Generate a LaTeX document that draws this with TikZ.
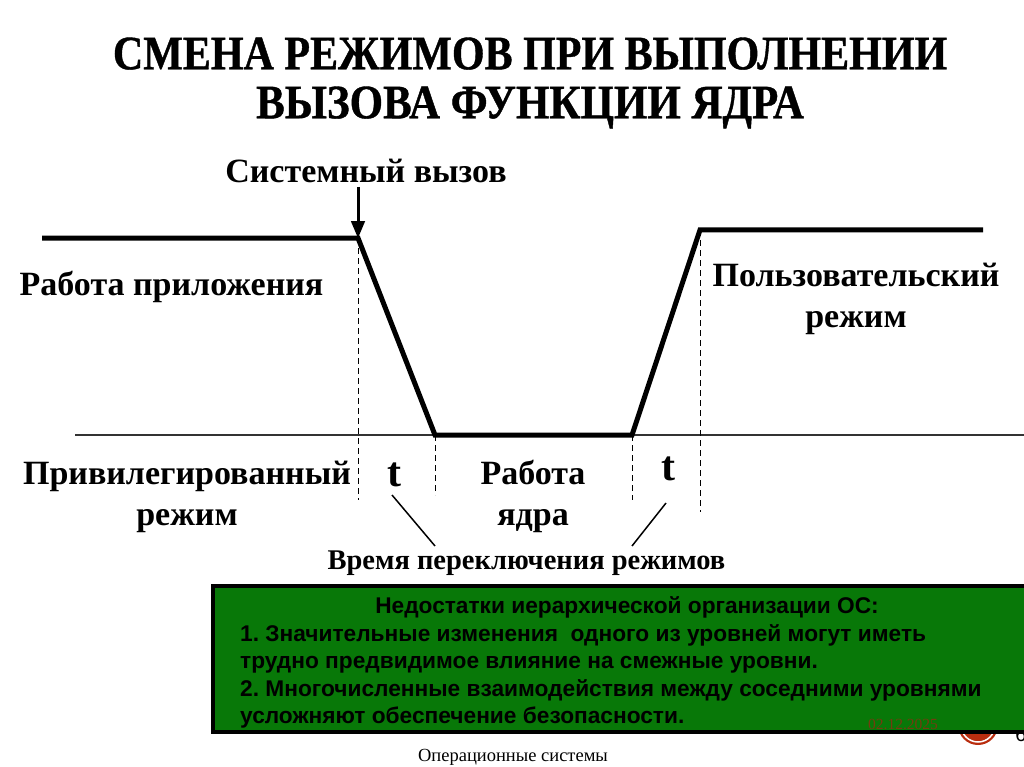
\documentclass[tikz,border=0pt]{standalone}
\usepackage{fontspec}
\setmainfont{Liberation Serif}
\newfontfamily\boxfont{Liberation Sans}
\newfontfamily\titlefont[FakeStretch=0.875,FakeBold=0.8]{Liberation Serif Bold}
\newfontfamily\subtitlefont[FakeStretch=0.895,FakeBold=0.8]{Liberation Serif Bold}
\usetikzlibrary{arrows}
\definecolor{boxgreen}{RGB}{8,120,8}
\definecolor{datered}{RGB}{115,60,15}
\definecolor{badgered}{RGB}{185,45,15}
\tikzset{
 label/.style={font=\fontsize{34}{41}\selectfont\bfseries, align=center, inner sep=0pt},
 heavy/.style={line width=5pt, line join=miter},
 guide/.style={dashed, line width=1pt, dash pattern=on 6pt off 4pt},
 pointer/.style={line width=1.5pt}
}
\frenchspacing
\begin{document}
\begin{tikzpicture} [x=1pt,y=-1pt]
 \useasboundingbox (0,0) rectangle (1024,767);
 % title
 \node (title) [font=\fontsize{48}{49}\titlefont, align=center, inner sep=0pt] at (530,83) {СМЕНА РЕЖИМОВ ПРИ ВЫПОЛНЕНИИ\\{\subtitlefont ВЫЗОВА ФУНКЦИИ ЯДРА}};
 % levels
 \coordinate (a) at (42,238);
 \coordinate (b) at (358,238);
 \coordinate (c) at (435,435);
 \coordinate (d) at (632,435);
 \coordinate (e) at (700,230);
 \coordinate (f) at (983,230);
 \coordinate (left) at (75,435);
 \coordinate (right) at (1024,435);
 \draw [line width=1.2pt, black!80] (left) -- (right);
 \draw [heavy] (a) -- (b) -- (c) -- (d) -- (e) -- (f);
 % dashed guides
 \coordinate (bend) at (358,500);
 \coordinate (cend) at (435,495);
 \coordinate (dend) at (632,500);
 \coordinate (eend) at (700,512);
 \draw [guide] (b) -- (bend);
 \draw [guide] (c) -- (cend);
 \draw [guide] (d) -- (dend);
 \draw [guide] (e) -- (eend);
 % labels
 \node (call) [label] at (366,171) {Системный вызов};
 \coordinate (calltop) at (358,187);
 \draw [-triangle 45, line width=3pt] (calltop) -- (b);
 \node (app) [label] at (171.5,287) {Работа приложения};
 \node (user) [label] at (856,298.5) {Пользовательский\\режим};
 \node (priv) [label] at (187,496.5) {Привилегированный\\режим};
 \node (kernel) [label] at (533,496.5) {Работа\\ядра};
 \node (t1) [font=\fontsize{42}{44}\selectfont\bfseries, inner sep=0pt] at (394,475) {t};
 \node (t2) [font=\fontsize{42}{44}\selectfont\bfseries, inner sep=0pt] at (668,469) {t};
 \node (switch) [font=\fontsize{28.5}{32}\selectfont\bfseries, inner sep=0pt] at (526.5,563) {Время переключения режимов};
 \coordinate (t1end) at (392,495);
 \coordinate (t2end) at (666,503);
 \coordinate (s1) at (435,546);
 \coordinate (s2) at (632,546);
 \draw [pointer] (t1end) -- (s1);
 \draw [pointer] (t2end) -- (s2);
 % bottom right badge
 \node (badge) [circle, fill=badgered, minimum size=40pt, inner sep=0pt] at (978,725) {};
 \node (ring) [circle, draw=white, line width=1.5pt, minimum size=34pt, inner sep=0pt] at (978,725) {};
 \node (page) [font=\fontsize{20}{24}\boxfont, inner sep=0pt] at (1021,735) {6};
 % green box
 \node (note) [draw=black, line width=3.5pt, fill=boxgreen, anchor=north west, minimum width=820pt, minimum height=146pt, inner sep=0pt] at (211,584) {};
 \node (head) [font=\fontsize{22.7}{27}\boxfont\bfseries, inner sep=0pt] at (627,607) {Недостатки иерархической организации ОС:};
 \node (body) [font=\fontsize{22.7}{27.5}\boxfont\bfseries, align=left, anchor=north west, inner sep=0pt] at (240,624) {1. Значительные изменения~ одного из уровней могут иметь\\трудно предвидимое влияние на смежные уровни.\\2. Многочисленные взаимодействия между соседними уровнями\\усложняют обеспечение безопасности.};
 \node (date) [font=\fontsize{15.5}{18}\selectfont, text=datered, inner sep=0pt] at (903,724) {02.12.2025};
 \node (foot) [font=\fontsize{18.5}{22}\selectfont, inner sep=0pt] at (513,757) {Операционные системы};
\end{tikzpicture}
\end{document}
